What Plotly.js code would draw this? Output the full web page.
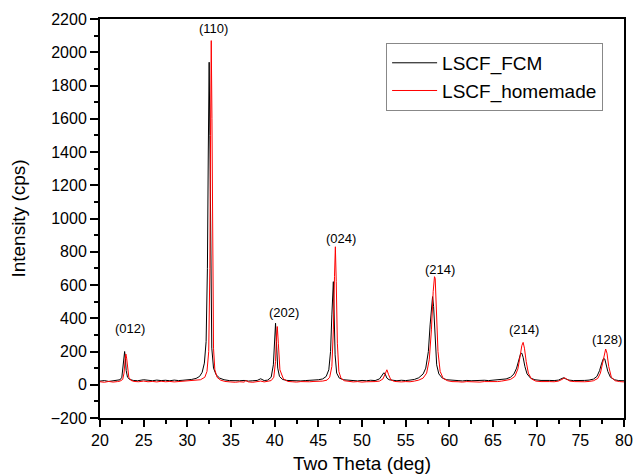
<!DOCTYPE html>
<html>
<head>
<meta charset="utf-8">
<script src="https://cdn.plot.ly/plotly-3.0.1.min.js"></script>
<style>html,body{margin:0;padding:0;background:#fff;}#chart{width:634px;height:474px;}</style>
</head>
<body>
<div id="chart"></div>
<script>
// LSCF_FCM (black)
const fcmX = [
  20, 20.5, 21, 21.5, 22, 22.3, 22.5, 22.65, 22.75, 22.82, 22.9, 23.0, 23.15, 23.4, 23.8, 24.3,
  25, 25.5, 26, 26.5, 27, 27.5, 28, 28.5, 29, 29.5, 30, 30.5, 31, 31.4,
  31.7, 31.95, 32.15, 32.3, 32.4, 32.5, 32.58, 32.68, 32.8, 33.0, 33.3, 33.7, 34.2, 34.8,
  35.5, 36, 36.5, 37, 37.5, 38, 38.4, 38.8, 39.2, 39.6, 39.85, 40.0, 40.1, 40.2, 40.35, 40.55, 40.9, 41.4,
  42, 42.5, 43, 43.5, 44, 44.5, 45, 45.5, 45.9, 46.2, 46.4, 46.55, 46.65, 46.72, 46.8, 46.92, 47.1, 47.4, 47.9, 48.5,
  49, 49.5, 50, 50.5, 51, 51.5, 52, 52.3, 52.5, 52.65, 52.85, 53.1, 53.5, 54, 54.5, 55, 55.5, 56, 56.5, 57, 57.3, 57.6, 57.8, 57.95, 58.08, 58.2, 58.35, 58.55, 58.8, 59.2, 59.7, 60.3,
  61, 61.5, 62, 62.5, 63, 63.5, 64, 64.5, 65, 65.5, 66, 66.5, 67, 67.4, 67.7, 67.95, 68.15, 68.3, 68.45, 68.65, 68.9, 69.3, 69.8, 70.5,
  71, 71.5, 72, 72.5, 72.9, 73.1, 73.3, 73.7, 74.2, 74.8, 75.5, 76, 76.5, 76.9, 77.2, 77.45, 77.65, 77.8, 77.95, 78.15, 78.45, 78.9, 79.4, 80
];
const fcmY = [
  22, 25, 20, 24, 26, 30, 45, 110, 185, 200, 160, 85, 45, 32, 26, 24,
  30, 27, 24, 28, 25, 27, 24, 28, 25, 27, 29, 32, 38, 50,
  75, 130, 260, 700, 1400, 1940, 1500, 600, 220, 100, 60, 40, 30, 25,
  22, 24, 26, 22, 24, 26, 36, 25, 28, 45, 120, 300, 370, 260, 100, 50, 32, 26,
  24, 26, 23, 25, 27, 26, 30, 35, 50, 90, 200, 420, 600, 620, 450, 180, 70, 40, 30, 26,
  25, 23, 26, 24, 27, 25, 35, 55, 72, 65, 40, 30, 26, 24, 27, 25, 28, 32, 42, 65, 100, 200, 360, 480, 530, 470, 280, 120, 65, 40, 30, 26,
  25, 23, 26, 24, 26, 24, 27, 25, 27, 28, 30, 35, 45, 65, 100, 150, 185, 190, 165, 110, 65, 40, 30, 26,
  24, 26, 25, 28, 38, 42, 36, 28, 25, 24, 26, 28, 34, 50, 85, 130, 158, 155, 125, 80, 45, 30, 25, 24
];
// LSCF_homemade (red)
const homeX = [
  20, 20.5, 21, 21.5, 22, 22.3, 22.6, 22.75, 22.88, 22.96, 23.05, 23.15, 23.3, 23.55, 23.9, 24.4,
  25, 25.5, 26, 26.5, 27, 27.5, 28, 28.5, 29, 29.5, 30, 30.5, 31, 31.5,
  32.0, 32.25, 32.45, 32.58, 32.66, 32.74, 32.82, 32.9, 33.0, 33.15, 33.4, 33.8, 34.3, 34.9,
  35.5, 36, 36.5, 36.7, 37, 37.5, 38, 38.4, 38.8, 39.2, 39.6, 39.9, 40.1, 40.2, 40.3, 40.42, 40.6, 41.0, 41.5,
  42, 42.5, 43, 43.5, 44, 44.5, 45, 45.5, 46, 46.3, 46.55, 46.72, 46.85, 46.95, 47.05, 47.18, 47.35, 47.6, 48.0, 48.5,
  49, 49.5, 50, 50.5, 51, 51.5, 52, 52.4, 52.65, 52.85, 53.05, 53.3, 53.7, 54, 54.5, 55, 55.5, 56, 56.5, 57, 57.4, 57.7, 57.95, 58.15, 58.3, 58.38, 58.5, 58.7, 58.95, 59.3, 59.8, 60.3,
  61, 61.5, 62, 62.5, 63, 63.5, 64, 64.5, 65, 65.5, 66, 66.5, 67, 67.5, 67.85, 68.1, 68.3, 68.45, 68.6, 68.8, 69.05, 69.4, 69.9, 70.5,
  71, 71.5, 72, 72.5, 72.9, 73.2, 73.45, 73.8, 74.3, 74.8, 75.5, 76, 76.5, 77, 77.3, 77.55, 77.75, 77.9, 78.05, 78.25, 78.55, 79.0, 79.5, 80
];
const homeY = [
  18, 15, 20, 16, 19, 22, 32, 70, 150, 185, 160, 90, 45, 26, 20, 18,
  22, 18, 20, 17, 21, 18, 20, 17, 19, 21, 20, 22, 24, 30,
  45, 80, 200, 700, 1500, 2070, 1600, 700, 220, 90, 45, 28, 20, 17,
  15, 18, 16, 25, 17, 15, 18, 22, 17, 19, 25, 45, 140, 280, 350, 250, 90, 35, 20,
  18, 16, 19, 17, 18, 20, 19, 22, 28, 45, 110, 330, 650, 830, 620, 250, 80, 38, 24, 19,
  17, 19, 16, 18, 17, 19, 22, 35, 65, 90, 60, 30, 20, 18, 17, 19, 18, 22, 28, 40, 70, 150, 330, 560, 650, 640, 480, 200, 80, 38, 24, 19,
  18, 16, 19, 17, 18, 16, 19, 18, 20, 19, 22, 25, 32, 50, 95, 170, 235, 255, 220, 140, 70, 35, 22, 19,
  17, 19, 18, 22, 32, 42, 33, 22, 19, 17, 18, 20, 24, 38, 70, 130, 190, 215, 190, 110, 45, 24, 19, 17
];
// Peak labels
const peakLabels = ["(012)", "(110)", "(202)", "(024)", "(214)", "(214)", "(128)"];
const peakLabelX = [23.4, 32.95, 41.1, 47.6, 58.9, 68.6, 78.1];
const peakLabelY = [341, 2140, 432, 877, 696, 335, 275];

const FONT = "Liberation Sans, Arial, sans-serif";

const traces = [
  {x: fcmX, y: fcmY, type: "scatter", mode: "lines", name: "LSCF_FCM", line: {color: "#000000", width: 1}},
  {x: homeX, y: homeY, type: "scatter", mode: "lines", name: "LSCF_homemade", line: {color: "#ff0000", width: 1}}
];

const annotations = peakLabels.map((t, i) => ({
  x: peakLabelX[i], y: peakLabelY[i], xref: "x", yref: "y", text: t, showarrow: false,
  font: {family: FONT, size: 13, color: "#000"}, yanchor: "middle", xanchor: "center"
}));

const layout = {
  width: 634, height: 474,
  margin: {l: 100, r: 10, t: 19, b: 56},
  paper_bgcolor: "#ffffff", plot_bgcolor: "#ffffff",
  font: {family: FONT, color: "#000"},
  showlegend: true,
  legend: {
    x: 0.546, y: 0.94, xanchor: "left", yanchor: "top",
    bgcolor: "#ffffff", bordercolor: "#888888", borderwidth: 1,
    font: {family: FONT, size: 19, color: "#000"},
    itemwidth: 45, tracegroupgap: 0
  },
  xaxis: {
    range: [20, 80], dtick: 5, tick0: 20,
    showgrid: false, zeroline: false,
    showline: true, linecolor: "#000", linewidth: 2, mirror: true,
    ticks: "outside", ticklen: 7, tickwidth: 2, tickcolor: "#000",
    minor: {dtick: 2.5, ticks: "outside", ticklen: 4, tickwidth: 2, tickcolor: "#000", showgrid: false},
    tickfont: {family: FONT, size: 16, color: "#000"},
    title: {text: "Two Theta (deg)", font: {family: FONT, size: 19, color: "#000"}, standoff: 15}
  },
  yaxis: {
    range: [-200, 2200], dtick: 200, tick0: 0,
    showgrid: false, zeroline: false,
    showline: true, linecolor: "#000", linewidth: 2, mirror: true,
    ticks: "outside", ticklen: 8, tickwidth: 2, tickcolor: "#000",
    minor: {dtick: 100, ticks: "outside", ticklen: 4, tickwidth: 2, tickcolor: "#000", showgrid: false},
    tickfont: {family: FONT, size: 16, color: "#000"},
    title: {text: "Intensity (cps)", font: {family: FONT, size: 19, color: "#000"}, standoff: 20}
  },
  annotations: annotations
};

Plotly.newPlot("chart", traces, layout, {displayModeBar: false, staticPlot: true});
</script>
</body>
</html>
